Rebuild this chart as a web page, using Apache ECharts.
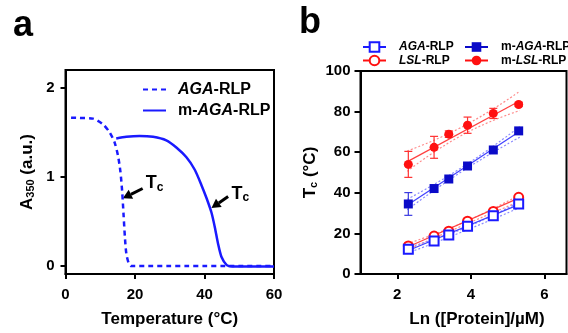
<!DOCTYPE html>
<html><head><meta charset="utf-8">
<script src="https://cdn.jsdelivr.net/npm/echarts@6/dist/echarts.min.js"></script>
<style>html,body{margin:0;padding:0;background:#fff}#c{width:568px;height:333px}</style>
</head><body><div id="c"></div>
<script>
// ---- Panel a data (turbidity curves) ----
const tempAGA  = [1.6, 4, 7.9, 10.8, 12.7, 14.1, 15.1, 15.8, 16.3, 16.7, 17.1, 17.5, 18.2, 18.9, 20, 25, 30, 35, 40, 45, 50, 55, 60];
const a350AGA  = [1.665, 1.662, 1.654, 1.59, 1.50, 1.39, 1.24, 1.06, 0.84, 0.58, 0.32, 0.14, 0.03, 0.0, 0.0, 0.0, 0.0, 0.0, 0.0, 0.0, 0.0, 0.0, 0.0];
const tempMAGA = [14.6, 17.5, 21.3, 25.2, 29.0, 31.9, 34.8, 37.2, 39.1, 40.6, 42.0, 43.0, 43.9, 44.9, 46.4, 48, 50, 55, 60];
const a350MAGA = [1.43, 1.45, 1.46, 1.45, 1.41, 1.33, 1.22, 1.08, 0.91, 0.76, 0.60, 0.43, 0.25, 0.10, 0.01, -0.005, -0.005, -0.005, -0.005];
const xTicksA = [0, 20, 40, 60];
const yTicksA = [0, 1, 2];

// ---- Panel b data (Tc vs ln concentration) ----
const lnConc = [2.30, 3.00, 3.40, 3.91, 4.61, 5.30];
const tcAGA  = [12.2, 16.2, 19.2, 23.5, 28.7, 34.5];
const tcLSL  = [13.8, 18.7, 21.1, 26.0, 30.8, 37.8];
const tcMAGA = [34.5, 42.1, 46.8, 53.2, 61.1, 70.5];
const tcMLSL = [54.0, 62.4, 68.9, 73.3, 79.1, 83.5];
const errMAGA = [5.6, 0.8, 0.8, 1.0, 1.0, 1.0];
const errMLSL = [6.4, 5.4, 1.6, 4.0, 2.5, 1.0];
// linear fits and dotted 95% bands
const fitX = [2.30, 5.30];
const fitAGA  = [11.6, 34.2];
const fitLSL  = [13.4, 37.4];
const fitMAGA = [34.2, 70.0];
const fitMLSL = [55.6, 85.0];
const bandX = [2.27, 3.80, 5.33];
const bandAGAUp  = [13.0, 22.4, 35.7], bandAGALo  = [10.2, 21.0, 32.7];
const bandLSLUp  = [14.9, 25.4, 39.0], bandLSLLo  = [11.9, 24.0, 35.8];
const bandMAGAUp = [36.8, 53.0, 72.6], bandMAGALo = [31.6, 51.0, 67.4];
const bandMLSLUp = [60.6, 72.8, 90.0], bandMLSLLo = [50.6, 68.8, 80.5];
const xTicksB = [2, 4, 6];
const yTicksB = [0, 20, 40, 60, 80, 100];

// Tc annotations (data coordinates of panel a)
const tcNotes = [
  {tail: [22.2, 0.87], tip: [16.5, 0.76], text: [23.1, 1.05]},
  {tail: [46.8, 0.78], tip: [42.0, 0.65], text: [47.8, 0.93]}
];

const FONT = 'Arial, "Liberation Sans", Helvetica, sans-serif';
const BLUE = '#1a1aff', NAVY = '#0a0ac8', RED = '#ff1010';

const chart = echarts.init(document.getElementById('c'), null, {renderer: 'canvas'});

function pairs(xs, ys) { return xs.map((x, i) => [x, ys[i]]); }

function axisCommon() {
  return {
    axisLine: {show: true, onZero: false, lineStyle: {color: '#000', width: 2}},
    axisTick: {show: true, length: 5, inside: false, lineStyle: {color: '#000', width: 2}},
    axisLabel: {color: '#000', fontSize: 15, fontWeight: 'bold', fontFamily: FONT},
    splitLine: {show: false},
    nameTextStyle: {color: '#000', fontSize: 17, fontWeight: 'bold', fontFamily: FONT}
  };
}

function errSeries(ys, errs, color) {
  return {
    type: 'custom', xAxisIndex: 1, yAxisIndex: 1, silent: true, z: 3,
    data: lnConc.map((x, i) => [x, ys[i] - errs[i], ys[i] + errs[i]]),
    encode: {x: 0, y: [1, 2]},
    renderItem: function (params, api) {
      const lo = api.coord([api.value(0), api.value(1)]);
      const hi = api.coord([api.value(0), api.value(2)]);
      const hw = 4;
      const st = {stroke: color, lineWidth: 1.2};
      return {type: 'group', children: [
        {type: 'line', shape: {x1: lo[0], y1: lo[1], x2: hi[0], y2: hi[1]}, style: st},
        {type: 'line', shape: {x1: lo[0] - hw, y1: lo[1], x2: lo[0] + hw, y2: lo[1]}, style: st},
        {type: 'line', shape: {x1: hi[0] - hw, y1: hi[1], x2: hi[0] + hw, y2: hi[1]}, style: st}
      ]};
    }
  };
}

function fitSeries(ys, color) {
  return {type: 'line', xAxisIndex: 1, yAxisIndex: 1, data: pairs(fitX, ys), symbol: 'none', silent: true,
    lineStyle: {color: color, width: 1.2}, z: 2};
}
function bandSeries(ys, color) {
  return {type: 'line', xAxisIndex: 1, yAxisIndex: 1, data: pairs(bandX, ys), symbol: 'none', silent: true, smooth: 0.5,
    lineStyle: {color: color, width: 1.2, type: [2, 2]}, z: 1};
}
function pointSeries(name, ys, symbol, filled, color) {
  return {type: 'line', name: name, xAxisIndex: 1, yAxisIndex: 1, data: pairs(lnConc, ys),
    symbol: symbol, symbolSize: 9, silent: true,
    itemStyle: filled ? {color: color} : {color: '#fff', borderColor: color, borderWidth: 2},
    lineStyle: {color: color, width: 1.2, opacity: 0}, z: 5};
}

function fmtName(n) { return n.replace(/^a:/, '').replace(/(AGA|LSL)/, '{i|$1}'); }

const option = {
  animation: false,
  backgroundColor: '#fff',
  grid: [
    {left: 65.5, top: 70, width: 208.5, height: 207, show: true, borderColor: '#000', borderWidth: 2, backgroundColor: 'transparent'},
    {left: 360.5, top: 71, width: 206, height: 205.7, show: true, borderColor: '#000', borderWidth: 2, backgroundColor: 'transparent'}
  ],
  xAxis: [
    Object.assign(axisCommon(), {gridIndex: 0, type: 'value', min: 0, max: 60, interval: 20,
      name: 'Temperature (°C)', nameLocation: 'middle', nameGap: 37,
      axisLabel: Object.assign(axisCommon().axisLabel, {margin: 13, customValues: xTicksA}),
      axisTick: Object.assign(axisCommon().axisTick, {customValues: xTicksA})}),
    Object.assign(axisCommon(), {gridIndex: 1, type: 'value', min: 1, max: 6.6,
      name: 'Ln ([Protein]/µM)', nameLocation: 'middle', nameGap: 37,
      nameTextStyle: Object.assign(axisCommon().nameTextStyle, {padding: [0, 0, 0, 27]}),
      axisLabel: Object.assign(axisCommon().axisLabel, {margin: 13, customValues: xTicksB}),
      axisTick: Object.assign(axisCommon().axisTick, {customValues: xTicksB})})
  ],
  yAxis: [
    Object.assign(axisCommon(), {gridIndex: 0, type: 'value', min: -0.09, max: 2.2,
      name: '{t|A}{s|350}{t| (a.u.)}', nameLocation: 'middle', nameGap: 29, nameRotate: 90,
      nameTextStyle: Object.assign(axisCommon().nameTextStyle, {rich: {
        t: {fontSize: 17, fontWeight: 'bold', fontFamily: FONT, color: '#000'},
        s: {fontSize: 11, fontWeight: 'bold', fontFamily: FONT, color: '#000', padding: [8, 0, 0, 0]}}}),
      axisLabel: Object.assign(axisCommon().axisLabel, {margin: 11, customValues: yTicksA}),
      axisTick: Object.assign(axisCommon().axisTick, {customValues: yTicksA})}),
    Object.assign(axisCommon(), {gridIndex: 1, type: 'value', min: 0, max: 100, interval: 20,
      name: '{t|T}{s|c}{t| (°C)}', nameLocation: 'middle', nameGap: 41, nameRotate: 90,
      nameTextStyle: Object.assign(axisCommon().nameTextStyle, {rich: {
        t: {fontSize: 17, fontWeight: 'bold', fontFamily: FONT, color: '#000'},
        s: {fontSize: 11, fontWeight: 'bold', fontFamily: FONT, color: '#000', padding: [8, 0, 0, 0]}}}),
      axisLabel: Object.assign(axisCommon().axisLabel, {margin: 10, customValues: yTicksB}),
      axisTick: Object.assign(axisCommon().axisTick, {length: 6, customValues: yTicksB})})
  ],
  legend: [
    {orient: 'vertical', left: 137, top: 75, itemWidth: 23, itemHeight: 14, itemGap: 2,
      data: [{name: 'a:AGA-RLP', itemStyle: {opacity: 0}}, {name: 'a:m-AGA-RLP', itemStyle: {opacity: 0}}], selectedMode: false,
      formatter: fmtName,
      textStyle: {fontSize: 16, fontWeight: 'bold', fontFamily: FONT, color: '#000', lineHeight: 19, padding: [0, 0, 0, 7],
        rich: {i: {fontSize: 16, fontStyle: 'italic', fontWeight: 'bold', fontFamily: FONT, color: '#000'}}}},
    {orient: 'vertical', left: 357, top: 36, itemWidth: 23, itemHeight: 12, itemGap: 1.5,
      data: [{name: 'AGA-RLP', lineStyle: {opacity: 1}}, {name: 'LSL-RLP', lineStyle: {opacity: 1}}], selectedMode: false,
      formatter: fmtName,
      textStyle: {fontSize: 12, fontWeight: 'bold', fontFamily: FONT, color: '#000', lineHeight: 12, padding: [0, 0, 0, 8],
        rich: {i: {fontSize: 12, fontStyle: 'italic', fontWeight: 'bold', fontFamily: FONT, color: '#000'}}}},
    {orient: 'vertical', left: 459, top: 36, itemWidth: 23, itemHeight: 12, itemGap: 1.5,
      data: [{name: 'm-AGA-RLP', lineStyle: {opacity: 1}}, {name: 'm-LSL-RLP', lineStyle: {opacity: 1}}], selectedMode: false,
      formatter: fmtName,
      textStyle: {fontSize: 12, fontWeight: 'bold', fontFamily: FONT, color: '#000', lineHeight: 12, padding: [0, 0, 0, 8],
        rich: {i: {fontSize: 12, fontStyle: 'italic', fontWeight: 'bold', fontFamily: FONT, color: '#000'}}}}
  ],
  series: [
    // panel a
    {type: 'line', name: 'a:AGA-RLP', xAxisIndex: 0, yAxisIndex: 0, data: pairs(tempAGA, a350AGA),
      symbol: 'none', smooth: 0.25, lineStyle: {color: BLUE, width: 2.5, type: [5, 4]}, itemStyle: {color: BLUE}, z: 3},
    {type: 'line', name: 'a:m-AGA-RLP', xAxisIndex: 0, yAxisIndex: 0, data: pairs(tempMAGA, a350MAGA),
      symbol: 'none', smooth: 0.25, lineStyle: {color: BLUE, width: 2.5}, itemStyle: {color: BLUE}, z: 3},
    // panel b bands and fits
    bandSeries(bandLSLUp, '#ff8a8a'), bandSeries(bandLSLLo, '#ff8a8a'),
    bandSeries(bandAGAUp, '#8a8aff'), bandSeries(bandAGALo, '#8a8aff'),
    bandSeries(bandMAGAUp, '#8a8aff'), bandSeries(bandMAGALo, '#8a8aff'),
    bandSeries(bandMLSLUp, '#ff8a8a'), bandSeries(bandMLSLLo, '#ff8a8a'),
    fitSeries(fitLSL, '#ff4040'), fitSeries(fitAGA, '#4040ff'),
    fitSeries(fitMAGA, '#4040ff'), fitSeries(fitMLSL, '#ff4040'),
    errSeries(tcMAGA, errMAGA, '#3a3ae0'), errSeries(tcMLSL, errMLSL, '#ff3030'),
    pointSeries('LSL-RLP', tcLSL, 'circle', false, RED),
    pointSeries('AGA-RLP', tcAGA, 'rect', false, BLUE),
    pointSeries('m-AGA-RLP', tcMAGA, 'rect', true, NAVY),
    pointSeries('m-LSL-RLP', tcMLSL, 'circle', true, RED)
  ]
};
chart.setOption(option);

// panel letters and Tc arrows (positions computed through the panel-a scales)
const g = [
  {type: 'text', left: 13, top: 8, style: {text: 'a', font: 'bold 36px ' + FONT, fill: '#000'}},
  {type: 'text', left: 299, top: 5, style: {text: 'b', font: 'bold 36px ' + FONT, fill: '#000'}}
];
tcNotes.forEach(n => {
  const tail = chart.convertToPixel({gridIndex: 0}, n.tail);
  const tip = chart.convertToPixel({gridIndex: 0}, n.tip);
  const tp = chart.convertToPixel({gridIndex: 0}, n.text);
  const dx = tip[0] - tail[0], dy = tip[1] - tail[1];
  const L = Math.sqrt(dx * dx + dy * dy), ux = dx / L, uy = dy / L;
  const hl = 9, hw = 5;
  const bx = tip[0] - ux * hl, by = tip[1] - uy * hl;
  g.push({type: 'line', shape: {x1: tail[0], y1: tail[1], x2: bx, y2: by}, style: {stroke: '#000', lineWidth: 3}});
  g.push({type: 'polygon', shape: {points: [[tip[0], tip[1]], [bx - uy * hw, by + ux * hw], [bx + uy * hw, by - ux * hw]]}, style: {fill: '#000'}});
  g.push({type: 'text', x: tp[0], y: tp[1], style: {text: '{t|T}{c|c}', rich: {
    t: {font: 'bold 18px ' + FONT, fill: '#000'},
    c: {font: 'bold 12px ' + FONT, fill: '#000', padding: [9, 0, 0, 0]}}}});
});
chart.setOption({graphic: g});
</script></body></html>
